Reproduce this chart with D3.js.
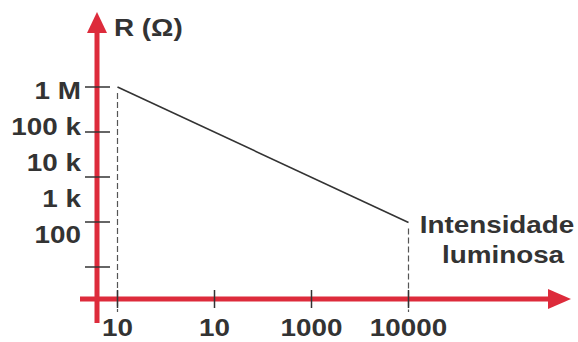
<!DOCTYPE html>
<html><head><meta charset="utf-8">
<script src="https://cdn.jsdelivr.net/npm/d3@7"></script>
<style>html,body{margin:0;padding:0;background:#fff;}svg{display:block;}</style>
</head><body>
<script>
// Data
const intensityTicks = [10, 100, 1000, 10000];
const intensityLabels = ["10", "10", "1000", "10000"];
const resistanceLabels = ["1 M", "100 k", "10 k", "1 k", "100"];
const resistanceTickSlots = ["t0", "t1", "t2", "t3", "t4"];
const curveIntensity = [10, 10000];
const curveResistance = [1e6, 100];
const yTitle = "R (Ω)";
const xTitle = ["Intensidade", "luminosa"];

const W = 578, H = 342;
const red = "#dd2b3b", ink = "#333333";
const FS = 24, SX = 1.16;

const svg = d3.select("body").append("svg").attr("width", W).attr("height", H);

const x = d3.scaleLog().domain([10, 10000]).range([117.5, 408.5]);
const y = d3.scaleLog().domain([100, 1e6]).range([222.5, 87]);
const yTick = d3.scalePoint().domain(resistanceTickSlots).range([87, 267]);
const yLab = d3.scalePoint().domain(resistanceLabels).range([99, 243]);

const axisX0 = 97, axisY0 = 299;

function label(g, txt, tx, ty, anchor) {
  g.append("g").attr("transform", `translate(${tx},${ty}) scale(${SX},1)`)
    .append("text").attr("text-anchor", anchor)
    .attr("font-family", "'Liberation Sans', Arial, sans-serif")
    .attr("font-weight", "bold").attr("font-size", FS).attr("fill", ink)
    .text(txt);
}

// dashed guides
const pts = curveIntensity.map((v, i) => [x(v), y(curveResistance[i])]);
svg.selectAll("line.guide").data(pts).join("line").attr("class", "guide")
  .attr("x1", d => d[0]).attr("x2", d => d[0])
  .attr("y1", d => d[1] + 6).attr("y2", 312)
  .attr("stroke", "#555").attr("stroke-width", 1.2).attr("stroke-dasharray", "6,3");

// curve
svg.append("path").datum(pts)
  .attr("d", d3.line()).attr("fill", "none").attr("stroke", ink).attr("stroke-width", 1.6);

// red axes
svg.append("line").attr("x1", axisX0).attr("x2", axisX0).attr("y1", 30).attr("y2", 323)
  .attr("stroke", red).attr("stroke-width", 5);
svg.append("path").attr("d", `M${axisX0},12 L${axisX0 + 10},33 L${axisX0 - 10},33 Z`).attr("fill", red);
svg.append("line").attr("x1", 80).attr("x2", 550).attr("y1", axisY0).attr("y2", axisY0)
  .attr("stroke", red).attr("stroke-width", 5);
svg.append("path").attr("d", `M571,${axisY0} L548,${axisY0 - 10} L548,${axisY0 + 10} Z`).attr("fill", red);

// y ticks
svg.selectAll("line.yt").data(resistanceTickSlots).join("line").attr("class", "yt")
  .attr("x1", 85).attr("x2", 110).attr("y1", d => yTick(d)).attr("y2", d => yTick(d))
  .attr("stroke", ink).attr("stroke-width", 1.5);
// x ticks
svg.selectAll("line.xt").data(intensityTicks).join("line").attr("class", "xt")
  .attr("x1", d => x(d)).attr("x2", d => x(d)).attr("y1", 290).attr("y2", 308)
  .attr("stroke", ink).attr("stroke-width", 1.5);

// labels
const lg = svg.append("g");
resistanceLabels.forEach(t => label(lg, t, 81, yLab(t), "end"));
intensityTicks.forEach((v, i) => label(lg, intensityLabels[i], x(v), 336, "middle"));
label(lg, yTitle, 114, 36, "start");
label(lg, xTitle[0], 497, 233, "middle");
label(lg, xTitle[1], 503, 263, "middle");
</script>
</body></html>
